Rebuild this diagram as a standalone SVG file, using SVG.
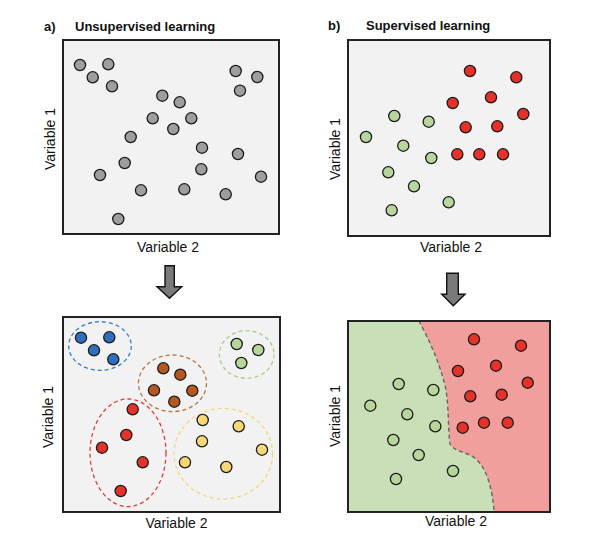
<svg xmlns="http://www.w3.org/2000/svg" width="590" height="538" viewBox="0 0 590 538">
<style>
.panel{fill:#f2f2f2;stroke:#222;stroke-width:2}
.title{font-family:"Liberation Sans",Arial,sans-serif;font-weight:bold;font-size:13px;fill:#111}
.axis{font-family:"Liberation Sans",Arial,sans-serif;font-size:14px;fill:#111}
circle{stroke:#1a1a1a;stroke-width:1.3}
.g{fill:#9e9e9e}
.gr{fill:#b6d69c}
.r{fill:#e4312a}
.b{fill:#2f6fbd}
.br{fill:#b5581f}
.y{fill:#f7d874}
.ell{fill:none;stroke-width:1.3;stroke-dasharray:4 3}
.arrow{fill:#7a7a7a;stroke:#111;stroke-width:1.4}
</style>
<rect width="590" height="538" fill="#fff"/>

<g id="panel-a">
<text class="title" x="44" y="31">a)</text>
<text class="title" x="75" y="31">Unsupervised learning</text>
<rect class="panel" x="63" y="40" width="216" height="194"/>
<text class="axis" x="168" y="252" text-anchor="middle">Variable 2</text>
<text class="axis" transform="translate(55,139) rotate(-90)" text-anchor="middle">Variable 1</text>
<g class="g">
<circle cx="80" cy="65" r="5.6"/><circle cx="108.3" cy="64.3" r="5.6"/><circle cx="92.7" cy="77.3" r="5.6"/><circle cx="112" cy="86.3" r="5.6"/>
<circle cx="235.7" cy="71" r="5.6"/><circle cx="257.3" cy="77" r="5.6"/><circle cx="240" cy="90.7" r="5.6"/>
<circle cx="162.3" cy="95.7" r="5.6"/><circle cx="179.7" cy="102.3" r="5.6"/><circle cx="152.7" cy="118.3" r="5.6"/><circle cx="191.3" cy="118.3" r="5.6"/><circle cx="173.3" cy="129" r="5.6"/>
<circle cx="130.7" cy="137" r="5.6"/><circle cx="202" cy="147.7" r="5.6"/><circle cx="238" cy="154" r="5.6"/><circle cx="124.7" cy="163" r="5.6"/>
<circle cx="201.3" cy="169.3" r="5.6"/><circle cx="100" cy="175" r="5.6"/><circle cx="261" cy="176.7" r="5.6"/><circle cx="141" cy="190.3" r="5.6"/>
<circle cx="184.3" cy="189.3" r="5.6"/><circle cx="225.7" cy="194.3" r="5.6"/><circle cx="118.3" cy="219" r="5.6"/>
</g>
</g>

<g id="panel-b">
<text class="title" x="328" y="30">b)</text>
<text class="title" x="366" y="30">Supervised learning</text>
<rect class="panel" x="348" y="40" width="202" height="196"/>
<text class="axis" x="451" y="252" text-anchor="middle">Variable 2</text>
<text class="axis" transform="translate(340,149) rotate(-90)" text-anchor="middle">Variable 1</text>
<g class="r">
<circle cx="470" cy="71" r="5.6"/><circle cx="516.3" cy="77.3" r="5.6"/><circle cx="491" cy="97.3" r="5.6"/><circle cx="452.7" cy="103" r="5.6"/>
<circle cx="523.3" cy="114" r="5.6"/><circle cx="465.7" cy="127.3" r="5.6"/><circle cx="497.3" cy="126.3" r="5.6"/>
<circle cx="457.3" cy="154.3" r="5.6"/><circle cx="479.3" cy="154.3" r="5.6"/><circle cx="503" cy="154.3" r="5.6"/>
</g>
<g class="gr">
<circle cx="394.3" cy="116" r="5.6"/><circle cx="428.7" cy="121.7" r="5.6"/><circle cx="366" cy="137" r="5.6"/><circle cx="403.3" cy="145.7" r="5.6"/>
<circle cx="431.3" cy="158" r="5.6"/><circle cx="388.3" cy="172.3" r="5.6"/><circle cx="414" cy="186.3" r="5.6"/><circle cx="448.7" cy="202.3" r="5.6"/><circle cx="391.7" cy="210.3" r="5.6"/>
</g>
</g>

<g id="connectors">
<path class="arrow" d="M165,265.7 H174.3 V286.7 H181.7 L169.5,298.3 L157,286.7 H165 Z"/>
<path class="arrow" d="M446.7,273.3 H458.3 V294.3 H465 L453.3,305.7 L441.7,294.3 H446.7 Z"/>
</g>

<g id="panel-c">
<rect class="panel" x="63" y="317" width="217" height="195"/>
<text class="axis" x="176.5" y="528" text-anchor="middle">Variable 2</text>
<text class="axis" transform="translate(53,417) rotate(-90)" text-anchor="middle">Variable 1</text>
<ellipse class="ell" cx="100" cy="346" rx="31.3" ry="24.3" stroke="#3b7dc9"/>
<ellipse class="ell" cx="172.5" cy="383.3" rx="34" ry="28.3" stroke="#b8743f"/>
<ellipse class="ell" cx="246.7" cy="354.5" rx="27.3" ry="23.8" stroke="#a9cc8e"/>
<ellipse class="ell" cx="128" cy="452.8" rx="38" ry="53.8" stroke="#e4393a"/>
<ellipse class="ell" cx="223.3" cy="453.7" rx="49.3" ry="45.3" stroke="#f3d77c"/>
<g class="b"><circle cx="81" cy="337.7" r="5.6"/><circle cx="109.3" cy="337.3" r="5.6"/><circle cx="94" cy="350.3" r="5.6"/><circle cx="113.3" cy="359.3" r="5.6"/></g>
<g class="br"><circle cx="163.3" cy="368.3" r="5.6"/><circle cx="180.3" cy="374.7" r="5.6"/><circle cx="154" cy="390.3" r="5.6"/><circle cx="192.3" cy="390.7" r="5.6"/><circle cx="174.3" cy="401.7" r="5.6"/></g>
<g class="gr"><circle cx="236.7" cy="344" r="5.6"/><circle cx="258.3" cy="350" r="5.6"/><circle cx="241.3" cy="363" r="5.6"/></g>
<g class="r"><circle cx="132.7" cy="409.3" r="5.6"/><circle cx="126.3" cy="435" r="5.6"/><circle cx="102" cy="447.7" r="5.6"/><circle cx="142.7" cy="462.3" r="5.6"/><circle cx="120.7" cy="491" r="5.6"/></g>
<g class="y"><circle cx="202.7" cy="420" r="5.6"/><circle cx="238.7" cy="426.3" r="5.6"/><circle cx="202" cy="441.3" r="5.6"/><circle cx="262" cy="449.7" r="5.6"/><circle cx="185" cy="462.3" r="5.6"/><circle cx="226.3" cy="467" r="5.6"/></g>
</g>

<g id="panel-d">
<rect x="348" y="321" width="202" height="191" fill="#f09f9d"/>
<path d="M348,321 H419 C428,338 440,362 446,390 C449,410 448,430 450,444 C454,452 466,451 476,459 C488,470 492,490 494.3,512 H348 Z" fill="#c9dfb7"/>
<path d="M419,321 C428,338 440,362 446,390 C449,410 448,430 450,444 C454,452 466,451 476,459 C488,470 492,490 494.3,512" fill="none" stroke="#666" stroke-width="1.4" stroke-dasharray="4 3"/>
<rect x="348" y="321" width="202" height="191" fill="none" stroke="#222" stroke-width="2"/>
<text class="axis" x="456" y="526" text-anchor="middle">Variable 2</text>
<text class="axis" transform="translate(340,416) rotate(-90)" text-anchor="middle">Variable 1</text>
<g class="r">
<circle cx="474" cy="339.3" r="5.6"/><circle cx="521" cy="345.7" r="5.6"/><circle cx="496" cy="365.7" r="5.6"/><circle cx="458" cy="371" r="5.6"/>
<circle cx="527.7" cy="382.7" r="5.6"/><circle cx="470.3" cy="396.3" r="5.6"/><circle cx="501.7" cy="394.7" r="5.6"/>
<circle cx="462.7" cy="427.7" r="5.6"/><circle cx="484" cy="422.7" r="5.6"/><circle cx="507.7" cy="422.7" r="5.6"/>
</g>
<g class="gr">
<circle cx="398.7" cy="384" r="5.6"/><circle cx="433.3" cy="390" r="5.6"/><circle cx="370.3" cy="405.7" r="5.6"/><circle cx="407.3" cy="414.3" r="5.6"/>
<circle cx="435.3" cy="426.3" r="5.6"/><circle cx="393.3" cy="440" r="5.6"/><circle cx="418.7" cy="455" r="5.6"/><circle cx="453" cy="471" r="5.6"/><circle cx="396" cy="479" r="5.6"/>
</g>
</g>
</svg>
